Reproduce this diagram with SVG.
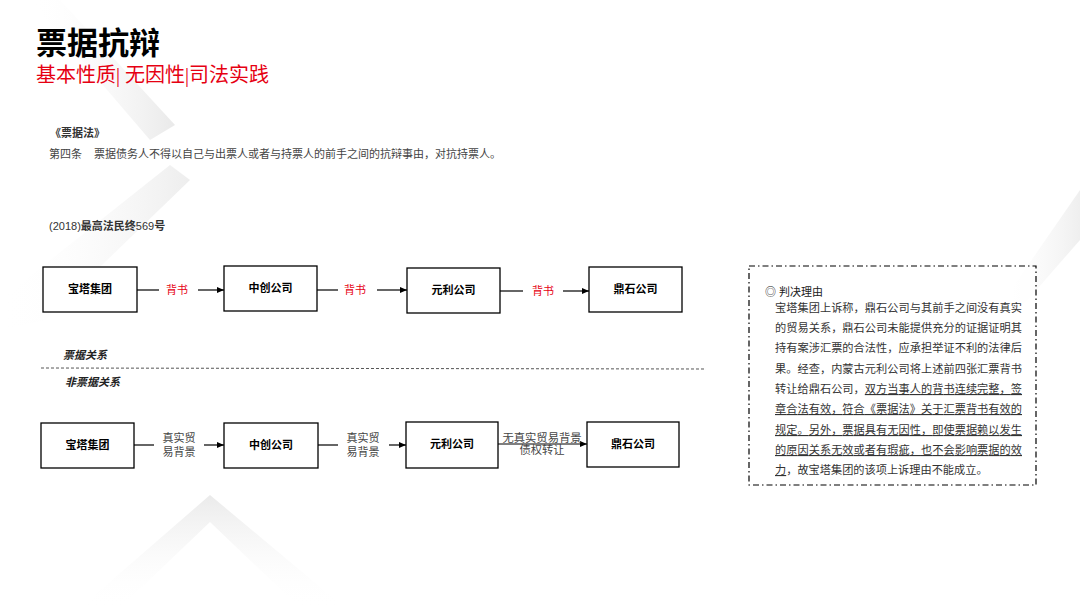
<svg xmlns="http://www.w3.org/2000/svg" width="1080" height="608" viewBox="0 0 1080 608">
<defs>
<linearGradient id="gA" x1="0" y1="0" x2="1" y2="0"><stop offset="0" stop-color="#ffffff" stop-opacity="0"/><stop offset="1" stop-color="#e4e4e4"/></linearGradient>
<linearGradient id="gB" x1="0" y1="0" x2="0" y2="1"><stop offset="0" stop-color="#e8e8e8"/><stop offset="1" stop-color="#ffffff" stop-opacity="0"/></linearGradient>
<linearGradient id="gC" x1="1" y1="0" x2="0" y2="0"><stop offset="0" stop-color="#e6e6e6"/><stop offset="1" stop-color="#ffffff" stop-opacity="0"/></linearGradient>
<marker id="arr" markerWidth="8" markerHeight="8" refX="7" refY="4" orient="auto" markerUnits="userSpaceOnUse"><path d="M0,1 L7,4 L0,7 Z" fill="#000"/></marker>
<style>
.box{fill:#fff;stroke:#000;stroke-width:1.3}
.bt{font-family:"Liberation Sans","Noto Sans CJK SC",sans-serif;font-size:11px;font-weight:bold;fill:#000;text-anchor:middle}
.red{font-family:"Liberation Serif","Noto Sans CJK SC",serif;font-size:11px;fill:#e60012;text-anchor:middle}
.gl{font-family:"Liberation Serif","Noto Sans CJK SC",serif;font-size:11px;fill:#444;text-anchor:middle}
.ln{stroke:#000;stroke-width:1.2;fill:none}
.para{font-family:"Liberation Serif","Noto Sans CJK SC",serif;font-size:11.2px;fill:#333}
.u{text-decoration:underline}
.lbl{font-family:"Liberation Serif","Noto Sans CJK SC",serif;font-size:11px;font-weight:bold;font-style:italic;fill:#222}
</style>
</defs>
<rect width="1080" height="608" fill="#fff"/>
<g id="background">
<polygon points="30,0 60,0 175,125 150,140" fill="url(#gA)" opacity="0.8"/>
<polygon points="170,165 190,180 45,320 0,330 0,300" fill="url(#gC)" opacity="0.7"/>
<polygon points="210,495 345,608 300,608 210,522 120,608 80,608" fill="url(#gB)" opacity="0.9"/>
<polygon points="1080,190 1080,240 1010,320 990,320" fill="url(#gA)" opacity="0.6"/>
</g>
<g id="title">
<text x="36" y="54" font-family="Liberation Sans,'Noto Sans CJK SC',sans-serif" font-size="31" font-weight="bold" fill="#000">票据抗辩</text>
<text x="36" y="82" font-family="'Liberation Serif','Noto Sans CJK SC',serif" font-size="20" fill="#e60012">基本性质| 无因性|司法实践</text>
</g>
<g id="law">
<text x="50" y="137" font-family="'Liberation Serif','Noto Sans CJK SC',serif" font-size="11" font-weight="bold" fill="#333">《票据法》</text>
<text x="49" y="158" font-family="'Liberation Sans','Noto Sans CJK SC',sans-serif" font-size="11" fill="#444">第四条<tspan x="94">票据债务人不得以自己与出票人或者与持票人的前手之间的抗辩事由，对抗持票人。</tspan></text>
<text x="49" y="230" font-family="'Liberation Sans','Noto Sans CJK SC',sans-serif" font-size="11" fill="#333">(2018)<tspan font-family="'Liberation Serif','Noto Sans CJK SC',serif" font-weight="bold">最高法民终</tspan>569<tspan font-family="'Liberation Serif','Noto Sans CJK SC',serif" font-weight="bold">号</tspan></text>
</g>
<g id="divider">
<text class="lbl" x="63" y="359">票据关系</text>
<line x1="41" y1="368" x2="706" y2="369" stroke="#555" stroke-width="1" stroke-dasharray="3 2"/>
<text class="lbl" x="65" y="386">非票据关系</text>
</g>
<g id="connectors">
<line class="ln" x1="137" y1="290" x2="159" y2="290"/>
<line class="ln" x1="198" y1="290" x2="224" y2="290" marker-end="url(#arr)"/>
<text class="red" x="177" y="294">背书</text>
<line class="ln" x1="317" y1="290" x2="338" y2="290"/>
<line class="ln" x1="377" y1="290" x2="407" y2="290" marker-end="url(#arr)"/>
<text class="red" x="355" y="294">背书</text>
<line class="ln" x1="500" y1="291" x2="523" y2="291"/>
<line class="ln" x1="563" y1="291" x2="589" y2="291" marker-end="url(#arr)"/>
<text class="red" x="543" y="295">背书</text>
<line class="ln" x1="134" y1="445" x2="154" y2="445"/>
<line class="ln" x1="204" y1="445" x2="224" y2="445" marker-end="url(#arr)"/>
<text class="gl" x="179" y="442">真实贸</text>
<text class="gl" x="179" y="456">易背景</text>
<line class="ln" x1="318" y1="445" x2="338" y2="445"/>
<line class="ln" x1="389" y1="445" x2="406" y2="445" marker-end="url(#arr)"/>
<text class="gl" x="363" y="442">真实贸</text>
<text class="gl" x="363" y="456">易背景</text>
<line class="ln" x1="498" y1="444" x2="587" y2="444" marker-end="url(#arr)"/>
<text class="gl" x="542" y="442" fill="#333" style="font-size:11.3px">无真实贸易背景</text>
<text class="gl" x="542" y="454" fill="#333" style="font-size:11.3px">债权转让</text>
</g>
<g id="n1"><rect class="box" x="43" y="267" width="94" height="45"/><text class="bt" x="90" y="293">宝塔集团</text></g>
<g id="n2"><rect class="box" x="224" y="266" width="93" height="45"/><text class="bt" x="270.5" y="292">中创公司</text></g>
<g id="n3"><rect class="box" x="407" y="268" width="93" height="45"/><text class="bt" x="453.5" y="294">元利公司</text></g>
<g id="n4"><rect class="box" x="589" y="267" width="93" height="45"/><text class="bt" x="635.5" y="293">鼎石公司</text></g>
<g id="n5"><rect class="box" x="41" y="423" width="93" height="45"/><text class="bt" x="87.5" y="449">宝塔集团</text></g>
<g id="n6"><rect class="box" x="224" y="423" width="94" height="45"/><text class="bt" x="271" y="449">中创公司</text></g>
<g id="n7"><rect class="box" x="406" y="422" width="92" height="46"/><text class="bt" x="452" y="448">元利公司</text></g>
<g id="n8"><rect class="box" x="587" y="422" width="92" height="45"/><text class="bt" x="633" y="448">鼎石公司</text></g>
<g id="reason">
<rect x="749" y="266" width="287" height="219" fill="#fff" fill-opacity="0.6" stroke="#000" stroke-width="1.2" stroke-dasharray="6 3 1.5 3"/>
<text x="765" y="296" font-family="'Liberation Sans','Noto Sans CJK SC',sans-serif" font-size="11" fill="#222">◎ 判决理由</text>
<text class="para" x="775" y="312" textLength="247" lengthAdjust="spacing">宝塔集团上诉称，鼎石公司与其前手之间没有真实</text>
<text class="para" x="775" y="332" textLength="247" lengthAdjust="spacing">的贸易关系，鼎石公司未能提供充分的证据证明其</text>
<text class="para" x="775" y="352" textLength="247" lengthAdjust="spacing">持有案涉汇票的合法性，应承担举证不利的法律后</text>
<text class="para" x="775" y="373" textLength="247" lengthAdjust="spacing">果。经查，内蒙古元利公司将上述前四张汇票背书</text>
<text class="para" x="775" y="393" textLength="247" lengthAdjust="spacing">转让给鼎石公司，<tspan class="u">双方当事人的背书连续完整，签</tspan></text>
<text class="para u" x="775" y="413" textLength="247" lengthAdjust="spacing">章合法有效，符合《票据法》关于汇票背书有效的</text>
<text class="para u" x="775" y="434" textLength="247" lengthAdjust="spacing">规定。另外，票据具有无因性，即使票据赖以发生</text>
<text class="para u" x="775" y="454" textLength="247" lengthAdjust="spacing">的原因关系无效或者有瑕疵，也不会影响票据的效</text>
<text class="para" x="775" y="474"><tspan class="u">力</tspan>，故宝塔集团的该项上诉理由不能成立。</text>
</g>
</svg>
